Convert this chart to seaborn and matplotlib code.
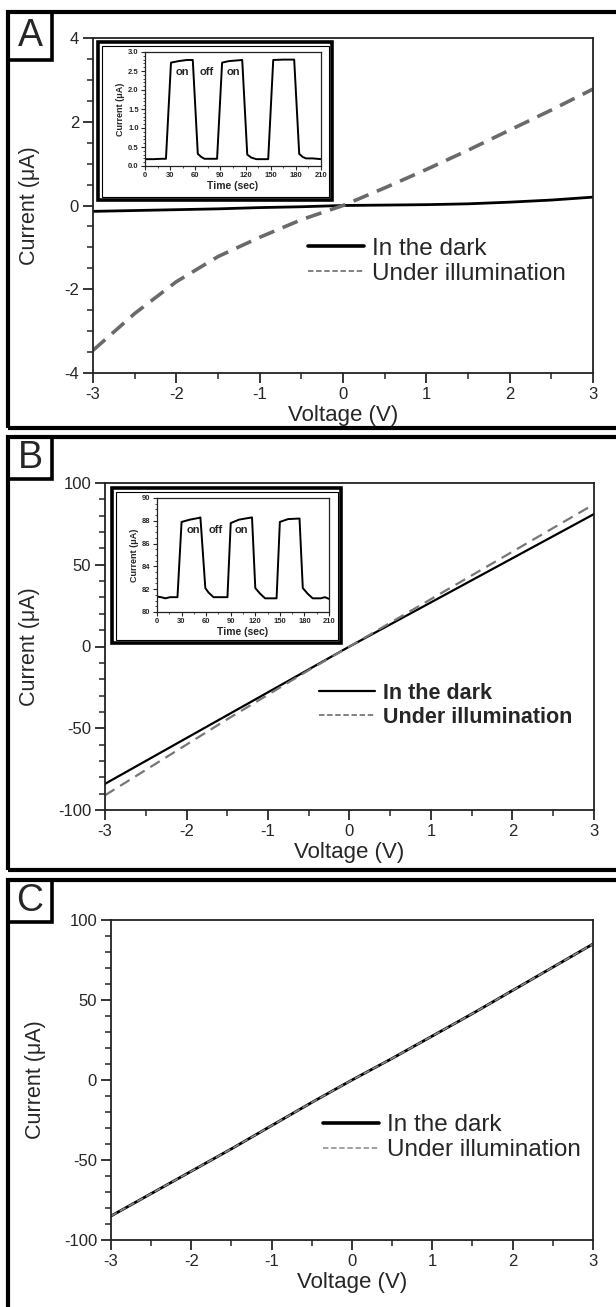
import numpy as np
import pandas as pd
import matplotlib
matplotlib.use("Agg")
import matplotlib.pyplot as plt
import seaborn as sns
from matplotlib.lines import Line2D
from matplotlib.patches import Rectangle
from matplotlib.ticker import MultipleLocator

# ---------------- data ----------------
voltage = [-3.0, -2.5, -2.0, -1.5, -1.0, -0.5, 0.0, 0.5, 1.0, 1.5, 2.0, 2.5, 3.0]

a_dark = [-0.14, -0.12, -0.10, -0.08, -0.05, -0.03, 0.0, 0.01, 0.02, 0.04, 0.08, 0.13, 0.20]
a_light = [-3.46, -2.58, -1.82, -1.22, -0.76, -0.34, 0.0, 0.42, 0.86, 1.32, 1.80, 2.28, 2.78]

b_dark = [-84, -70, -56, -42, -28, -14, 0, 13.5, 27, 40.5, 54, 67.5, 81]
b_light = [-91, -75.5, -60, -44.5, -29.5, -14.5, 0, 14.5, 29, 43.5, 58, 72.5, 87]

c_dark = [-85, -71, -57, -43, -28.5, -14, 0, 13.5, 27.5, 41.5, 56, 70.5, 85]
c_light = [-85, -71, -57, -43, -28.5, -14, 0, 13.5, 27.5, 41.5, 56, 70.5, 85]

# on/off transients (insets)
a_time = [0, 10, 20, 25, 31, 40, 50, 57, 63, 67, 71, 86, 92, 100, 116, 122, 127, 133, 147, 153, 165, 178, 184, 188, 192, 200, 210]
a_curr = [0.18, 0.18, 0.19, 0.19, 2.72, 2.76, 2.79, 2.79, 0.32, 0.24, 0.19, 0.19, 2.72, 2.76, 2.79, 0.30, 0.22, 0.18, 0.18, 2.79, 2.80, 2.80, 0.32, 0.24, 0.20, 0.20, 0.18]

b_time = [0, 5, 10, 16, 25, 30, 40, 51, 53, 59, 63, 69, 86, 90, 100, 116, 120, 126, 132, 146, 150, 160, 174, 178, 184, 190, 200, 205, 210]
b_curr = [81.35, 81.3, 81.2, 81.3, 81.3, 87.9, 88.1, 88.25, 88.3, 82.1, 81.7, 81.3, 81.3, 87.8, 88.1, 88.3, 82.1, 81.6, 81.2, 81.2, 87.9, 88.15, 88.2, 82.1, 81.6, 81.2, 81.2, 81.3, 81.15]

labels = ["In the dark", "Under illumination"]
ticks_v = [-3, -2, -1, 0, 1, 2, 3]

# ---------------- style ----------------
sns.set_theme(style="ticks")
plt.rcParams["font.family"] = ["Liberation Sans", "DejaVu Sans"]
plt.rcParams["axes.unicode_minus"] = False
plt.rcParams["axes.linewidth"] = 1.3
plt.rcParams["axes.edgecolor"] = "#222222"

W, H = 616, 1307
fig = plt.figure(figsize=(W / 100, H / 100), dpi=100)


def rect(l, t, r, b):
    return [l / W, 1 - b / H, (r - l) / W, (b - t) / H]


def frame(l, t, r, b, lw):
    fig.patches.append(Rectangle((l / W, 1 - b / H), (r - l) / W, (b - t) / H,
                                 transform=fig.transFigure, fill=False,
                                 edgecolor="black", linewidth=lw, zorder=5))


def style_main(ax, ymaj, ymin, ylim, ylab_x, left, right):
    ax.set_xlim(-3, 3)
    ax.set_ylim(*ylim)
    ax.set_xticks(ticks_v)
    ax.xaxis.set_minor_locator(MultipleLocator(0.5))
    ax.yaxis.set_major_locator(MultipleLocator(ymaj))
    ax.yaxis.set_minor_locator(MultipleLocator(ymin))
    ax.tick_params(which="major", direction="out", length=7, width=1.3, labelsize=12, pad=3)
    ax.tick_params(which="minor", direction="out", length=4, width=1.1)
    ax.tick_params(top=False, right=False, which="both")
    ax.set_xlabel("Voltage (V)", fontsize=16, labelpad=2)
    ax.set_ylabel("Current (\u03bcA)", fontsize=15.5)
    ax.yaxis.label.set_va("center")
    ax.yaxis.set_label_coords((ylab_x - left) / (right - left), 0.5)
    for s in ax.spines.values():
        s.set_visible(True)


def style_inset(ax, ylim, ymaj, ymin, fmt):
    ax.set_xlim(0, 210)
    ax.set_ylim(*ylim)
    ax.xaxis.set_major_locator(MultipleLocator(30))
    ax.xaxis.set_minor_locator(MultipleLocator(15))
    ax.yaxis.set_major_locator(MultipleLocator(ymaj))
    ax.yaxis.set_minor_locator(MultipleLocator(ymin))
    ax.yaxis.set_major_formatter(plt.FormatStrFormatter(fmt))
    ax.tick_params(which="major", direction="out", length=3, width=0.8, labelsize=5.5, pad=1.5)
    ax.tick_params(which="minor", direction="out", length=1.5, width=0.6)
    ax.tick_params(top=False, right=False, which="both")
    for lab in ax.get_xticklabels() + ax.get_yticklabels():
        lab.set_fontweight("bold")
    ax.set_xlabel("Time (sec)", fontsize=7.5, fontweight="bold", labelpad=1)
    ax.set_ylabel("Current (\u03bcA)", fontsize=6.5, fontweight="bold", labelpad=2)
    for s in ax.spines.values():
        s.set_linewidth(0.9)


def panel_letter(letter, t, b):
    frame(8, t, 52, b, 2.6)
    fig.text(30 / W, 1 - (t + b) / 2 / H, letter, fontsize=27, ha="center", va="center")


# ---------------- panel frames ----------------
frame(8, 12, 640, 428, 3)
frame(8, 437, 640, 870, 3)
frame(8, 880, 640, 1340, 3)
panel_letter("A", 12, 60)
panel_letter("B", 437, 479)
panel_letter("C", 880, 922)

# ---------------- panel A ----------------
axA = fig.add_axes(rect(93, 38, 593, 373))
dfA = pd.DataFrame({"V": voltage, "dark": a_dark, "light": a_light})
sns.lineplot(data=dfA, x="V", y="dark", ax=axA, color="black", linewidth=2.0)
sns.lineplot(data=dfA, x="V", y="light", ax=axA, color="#6a6a6a", linewidth=2.6,
             linestyle=(0, (4.5, 2.5)))
style_main(axA, 2, 0.5, (-4, 4), 30, 93, 593)
hA = [Line2D([], [], color="black", lw=2.6),
      Line2D([], [], color="#777777", lw=1.3, linestyle=(0, (3, 1.5)))]
axA.legend(hA, labels, loc="center left", bbox_to_anchor=(0.43, 0.333), frameon=False,
           fontsize=17.5, handlelength=2.3, handletextpad=0.35, labelspacing=0.12,
           borderaxespad=0, borderpad=0)

frame(98, 42, 332, 200, 2.6)
frame(102, 46, 329, 197, 0.8)
insA = fig.add_axes(rect(145, 52, 321, 166))
dfAi = pd.DataFrame({"t": a_time, "I": a_curr})
sns.lineplot(data=dfAi, x="t", y="I", ax=insA, color="black", linewidth=1.4)
style_inset(insA, (0, 3.0), 0.5, 0.1, "%.1f")
for x, s in [(45, "on"), (74, "off"), (106, "on")]:
    insA.text(x, 2.47, s, fontsize=8, fontweight="bold", ha="center", va="center")

# ---------------- panel B ----------------
axB = fig.add_axes(rect(105, 483, 594, 810))
dfB = pd.DataFrame({"V": voltage, "dark": b_dark, "light": b_light})
sns.lineplot(data=dfB, x="V", y="dark", ax=axB, color="black", linewidth=1.6)
sns.lineplot(data=dfB, x="V", y="light", ax=axB, color="#777777", linewidth=1.6,
             linestyle=(0, (5, 3)))
style_main(axB, 50, 10, (-100, 100), 30, 105, 594)
hB = [Line2D([], [], color="black", lw=1.6),
      Line2D([], [], color="#777777", lw=1.3, linestyle=(0, (3, 1.5)))]
axB.legend(hB, labels, loc="center left", bbox_to_anchor=(0.438, 0.32), frameon=False,
           prop={"size": 15.5, "weight": "bold"}, handlelength=2.6, handletextpad=0.35,
           labelspacing=0.15, borderaxespad=0, borderpad=0)

frame(112, 488, 341, 643, 2.6)
frame(116, 492, 338, 640, 0.8)
insB = fig.add_axes(rect(157, 498, 329, 612))
dfBi = pd.DataFrame({"t": b_time, "I": b_curr})
sns.lineplot(data=dfBi, x="t", y="I", ax=insB, color="black", linewidth=1.4)
style_inset(insB, (80, 90), 2, 0.5, "%d")
for x, s in [(44, "on"), (72, "off"), (103, "on")]:
    insB.text(x, 87.2, s, fontsize=8, fontweight="bold", ha="center", va="center")

# ---------------- panel C ----------------
axC = fig.add_axes(rect(111, 920, 593, 1240))
dfC = pd.DataFrame({"V": voltage, "dark": c_dark, "light": c_light})
sns.lineplot(data=dfC, x="V", y="dark", ax=axC, color="black", linewidth=2.0)
sns.lineplot(data=dfC, x="V", y="light", ax=axC, color="#8a8a8a", linewidth=1.2,
             linestyle=(0, (4, 2)))
style_main(axC, 50, 10, (-100, 100), 35, 111, 593)
hC = [Line2D([], [], color="black", lw=2.6),
      Line2D([], [], color="#999999", lw=1.3, linestyle=(0, (3, 1.5)))]
axC.legend(hC, labels, loc="center left", bbox_to_anchor=(0.44, 0.32), frameon=False,
           fontsize=17.5, handlelength=2.3, handletextpad=0.35, labelspacing=0.12,
           borderaxespad=0, borderpad=0)

fig.savefig("out.png", dpi=100)
